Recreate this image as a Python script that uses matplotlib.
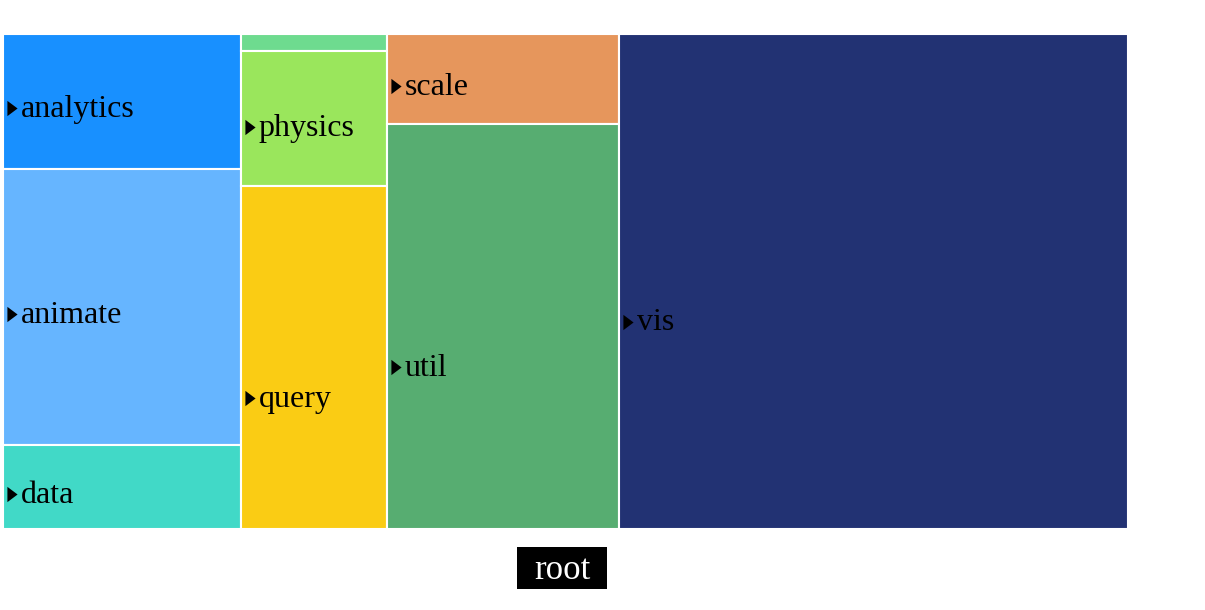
import matplotlib.pyplot as plt
from matplotlib.patches import Rectangle
from matplotlib.transforms import offset_copy

# top level packages, grouped by column (left to right, top to bottom)
columns = [
    ["analytics", "animate", "data"],
    ["flex", "physics", "query"],
    ["scale", "util"],
    ["vis"],
]
sizes = {
    "analytics": 32.1, "animate": 65.7, "data": 20.0,
    "flex": 2.5, "physics": 19.7, "query": 50.1,
    "scale": 20.9, "util": 94.0,
    "vis": 252.0,
}
colors = {
    "analytics": "#1890FF", "animate": "#66B5FF", "data": "#41D9C7",
    "flex": "#6EDB8F", "physics": "#9AE65C", "query": "#FACC14",
    "scale": "#E6965C", "util": "#57AD71", "vis": "#223273",
}
hide_label = ["flex"]
# how far (px) each label sits below the middle of its box
label_drop = {"query": 41, "util": 40, "vis": 40, "physics": 8}

fig = plt.figure(figsize=(12.05, 6.10), dpi=100)
W, H = 1205, 610
ax = fig.add_axes([3 / W, (H - 529) / H, 1125 / W, 495 / H])
ax.set_xlim(0, 1)
ax.set_ylim(1, 0)
ax.axis("off")

arrow = [(-2, -3), (2, 0), (-2, 3), (-2, -3)]

total = sum(sizes.values())
x = 0
for col in columns:
    col_sum = sum(sizes[n] for n in col)
    w = col_sum / total
    y = 0
    for name in col:
        h = sizes[name] / col_sum
        ax.add_patch(Rectangle((x, y), w, h, facecolor=colors[name],
                               edgecolor="white", linewidth=1.5))
        if name not in hide_label:
            drop = label_drop.get(name, 7)
            tri = offset_copy(ax.transData, fig=fig, x=9, y=-drop, units="dots")
            ax.plot([x], [y + h / 2], marker=arrow, color="black", markersize=11,
                    markeredgewidth=0, transform=tri, clip_on=False)
            txt = offset_copy(ax.transData, fig=fig, x=18, y=-drop - 9, units="dots")
            ax.text(x, y + h / 2, name, transform=txt, ha="left", va="baseline",
                    fontsize=23, family="Liberation Serif", color="black")
        y += h
    x += w

fig.add_artist(Rectangle((517, H - 589), 90, 42, transform=None,
                         facecolor="black", edgecolor="none"))
fig.text(562 / W, 1 - 579 / H, "root", ha="center", va="baseline",
         fontsize=25, family="Liberation Serif", color="white")

plt.savefig("out.png", dpi=100)
